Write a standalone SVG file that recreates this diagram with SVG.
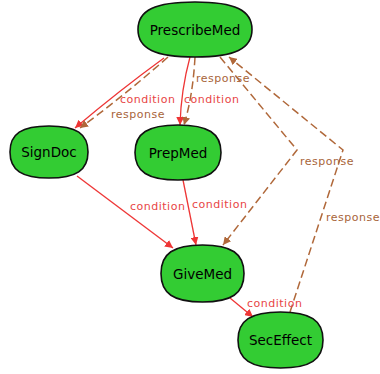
<svg xmlns="http://www.w3.org/2000/svg" width="380" height="374" viewBox="0 0 380 374">
<style>
.node path{fill:#33cc33;stroke:#111;stroke-width:1.6}
.node text{font-family:"DejaVu Sans",sans-serif;font-size:13.5px;fill:#000;text-anchor:middle}
.cond{fill:none;stroke:#ee3535;stroke-width:1.3}
.resp{fill:none;stroke:#b0683a;stroke-width:1.5;stroke-dasharray:8,4}
.lc{font-family:"DejaVu Sans",sans-serif;font-size:11px;letter-spacing:0.5px;fill:#e84545}
.lr{font-family:"DejaVu Sans",sans-serif;font-size:11px;letter-spacing:0.5px;fill:#a8643a}
</style>
<defs>
<marker id="ac" viewBox="0 0 10 10" refX="10" refY="5" markerWidth="8" markerHeight="8" markerUnits="userSpaceOnUse" orient="auto"><path d="M0,0L10,5L0,10z" fill="#ee3535"/></marker>
<marker id="ar" viewBox="0 0 10 10" refX="10" refY="5" markerWidth="8" markerHeight="8" markerUnits="userSpaceOnUse" orient="auto"><path d="M0,0L10,5L0,10z" fill="#b0683a"/></marker>
</defs>
<g id="connectors">
<path class="cond" d="M164,58 Q120,90 75,128" marker-end="url(#ac)"/>
<path class="resp" d="M168,57 Q125,95 80,128" marker-end="url(#ar)"/>
<path class="cond" d="M190,57 Q181,90 180,125" marker-end="url(#ac)"/>
<path class="resp" d="M195,57 Q193,95 184,125" marker-end="url(#ar)"/>
<path class="cond" d="M77,176 L173,248" marker-end="url(#ac)"/>
<path class="cond" d="M183,180 L196,245" marker-end="url(#ac)"/>
<path class="resp" d="M220,57 L297,150 L223,245" marker-end="url(#ar)"/>
<path class="resp" d="M290,312 L343,150 L229,57" marker-end="url(#ar)"/>
<path class="cond" d="M230,298 L253,317" marker-end="url(#ac)"/>
<text class="lc" x="120" y="103">condition</text>
<text class="lr" x="111" y="118">response</text>
<text class="lc" x="184" y="103">condition</text>
<text class="lr" x="196" y="82">response</text>
<text class="lr" x="300" y="165">response</text>
<text class="lr" x="326" y="221">response</text>
<text class="lc" x="192" y="208">condition</text>
<text class="lc" x="130" y="210">condition</text>
<text class="lc" x="247" y="307">condition</text>
</g>
<g id="PrescribeMed" class="node"><path d="M252,29.5 C252,48.75 234.9,57 195,57 C155.1,57 138,48.75 138,29.5 C138,10.25 155.1,2 195,2 C234.9,2 252,10.25 252,29.5Z"/><text x="195" y="35">PrescribeMed</text></g>
<g id="SignDoc" class="node"><path d="M88,152 C88,170.2 76.3,178 49,178 C21.7,178 10,170.2 10,152 C10,133.8 21.7,126 49,126 C76.3,126 88,133.8 88,152Z"/><text x="49" y="157">SignDoc</text></g>
<g id="PrepMed" class="node"><path d="M221,152.5 C221,171.75 208.1,180 178,180 C147.9,180 135,171.75 135,152.5 C135,133.25 147.9,125 178,125 C208.1,125 221,133.25 221,152.5Z"/><text x="178" y="157.5">PrepMed</text></g>
<g id="GiveMed" class="node"><path d="M244,273.5 C244,293.45 231.55,302 202.5,302 C173.45,302 161,293.45 161,273.5 C161,253.55 173.45,245 202.5,245 C231.55,245 244,253.55 244,273.5Z"/><text x="202.5" y="278.5">GiveMed</text></g>
<g id="SecEffect" class="node"><path d="M323,340 C323,359.6 310.25,368 280.5,368 C250.75,368 238,359.6 238,340 C238,320.4 250.75,312 280.5,312 C310.25,312 323,320.4 323,340Z"/><text x="280.5" y="345">SecEffect</text></g>
</svg>
